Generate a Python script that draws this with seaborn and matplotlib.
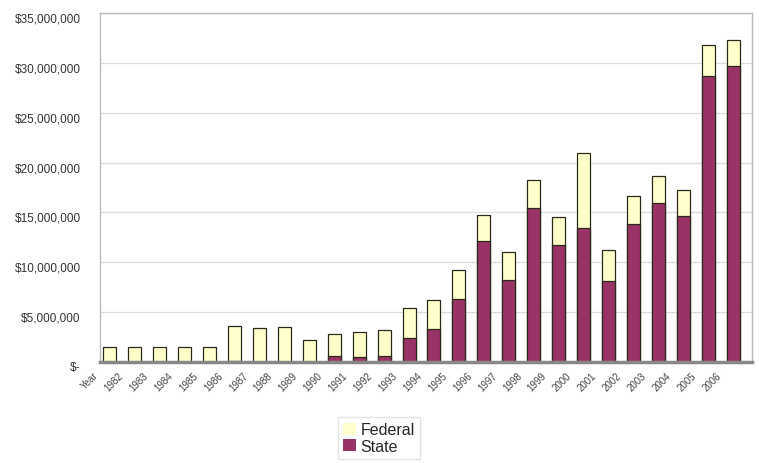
import matplotlib
matplotlib.use("Agg")
import matplotlib.pyplot as plt
import matplotlib.transforms as mtransforms
from matplotlib.patches import Patch
import seaborn as sns
import pandas as pd

categories = ["Year", "1982", "1983", "1984", "1985", "1986", "1987", "1988", "1989",
              "1990", "1991", "1992", "1993", "1994", "1995", "1996", "1997", "1998",
              "1999", "2000", "2001", "2002", "2003", "2004", "2005", "2006"]
state = [0.0, 0.0, 0.0, 0.0, 0.0, 0.1, 0.0, 0.0, 0.0,
         0.6, 0.5, 0.6, 2.4, 3.3, 6.3, 12.1, 8.2, 15.4,
         11.7, 13.4, 8.1, 13.8, 15.9, 14.6, 28.7, 29.7]
total = [1.5, 1.5, 1.5, 1.5, 1.5, 3.6, 3.4, 3.5, 2.2,
         2.8, 3.0, 3.2, 5.4, 6.2, 9.2, 14.7, 11.0, 18.3,
         14.5, 21.0, 11.2, 16.6, 18.7, 17.2, 31.8, 32.3]
federal = [t - s for t, s in zip(total, state)]
ytick_values = [0, 5, 10, 15, 20, 25, 30, 35]
ytick_labels = ["$-", "$5,000,000", "$10,000,000", "$15,000,000", "$20,000,000",
                "$25,000,000", "$30,000,000", "$35,000,000"]

df = pd.DataFrame({"category": categories,
                   "State": [v * 1e6 for v in state],
                   "Total": [(s + f) * 1e6 for s, f in zip(state, federal)]})

fed_color = "#FFFFCC"
state_color = "#993366"

sns.set_style("white")
plt.rcParams["font.family"] = ["Liberation Sans", "DejaVu Sans"]

fig = plt.figure(figsize=(7.59, 4.64), dpi=100)
ax = fig.add_axes([100 / 759, 1 - 363 / 464, 652 / 759, 349 / 464])

sns.barplot(data=df, x="category", y="Total", color=fed_color, width=0.52,
            edgecolor="#2a2a1a", linewidth=0.9, saturation=1, ax=ax, order=categories)
sns.barplot(data=df, x="category", y="State", color=state_color, width=0.52,
            edgecolor="#2a2a1a", linewidth=0.9, saturation=1, ax=ax, order=categories)

ax.set_xlim(-0.4, 25.76)
ax.set_ylim(0, 35e6)
ax.set_yticks([v * 1e6 for v in ytick_values])
ax.set_yticklabels(ytick_labels, fontsize=8.5, color="#333333")
ax.yaxis.grid(True, color="#dddddd", linewidth=0.9)
ax.set_axisbelow(True)
ax.set_xlabel("")
ax.set_ylabel("")

ax.tick_params(axis="y", length=3, pad=11, color="#aaaaaa")
ax.tick_params(axis="x", length=3, pad=2, color="#aaaaaa")

yoff = mtransforms.ScaledTranslation(0, -4 / 100, fig.dpi_scale_trans)
for lbl in ax.get_yticklabels():
    lbl.set_transform(lbl.get_transform() + yoff)

xoff = mtransforms.ScaledTranslation(-17 / 100, -1 / 100, fig.dpi_scale_trans)
for lbl in ax.get_xticklabels():
    lbl.set_rotation(45)
    lbl.set_ha("right")
    lbl.set_rotation_mode("anchor")
    lbl.set_fontsize(7)
    lbl.set_color("#444444")
    lbl.set_transform(lbl.get_transform() + xoff)

for side in ["top", "right", "left", "bottom"]:
    ax.spines[side].set_visible(True)
    ax.spines[side].set_color("#bbbbbb")
    ax.spines[side].set_linewidth(1.0)
ax.spines["bottom"].set_color("#888888")
ax.spines["bottom"].set_linewidth(2.5)

handles = [Patch(facecolor=fed_color, edgecolor="none", label="Federal"),
           Patch(facecolor=state_color, edgecolor="none", label="State")]
fig.legend(handles=handles, loc="center", bbox_to_anchor=(379 / 759, 1 - 439 / 464),
           fontsize=11.5, frameon=True, edgecolor="#dddddd", fancybox=False,
           handlelength=0.8, handleheight=0.8, handletextpad=0.3, labelspacing=0.1,
           borderpad=0.3)

fig.savefig("out.png", dpi=100, facecolor="white")
